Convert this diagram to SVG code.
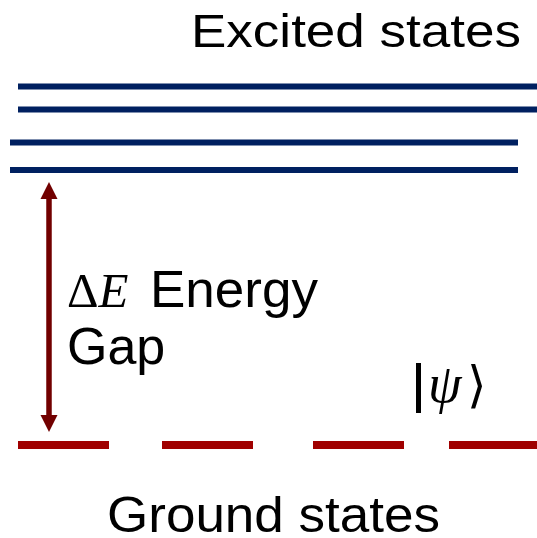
<svg xmlns="http://www.w3.org/2000/svg" width="537" height="538" viewBox="0 0 537 538">
<style>
.lbl{font-family:"Liberation Sans",Arial,sans-serif;fill:#000}
.math{font-family:"Liberation Serif","DejaVu Serif",serif;fill:#000}
.ex{stroke:#002060;stroke-width:6;fill:none}
.gs{stroke:#A00000;stroke-width:8;fill:none}
</style>
<rect width="537" height="538" fill="#fff"/>
<g id="excited-states">
<line class="ex" x1="18" y1="86.5" x2="537" y2="86.5"/>
<line class="ex" x1="18" y1="109.5" x2="537" y2="109.5"/>
<line class="ex" x1="10" y1="142.5" x2="518" y2="142.5"/>
<line class="ex" x1="10" y1="170" x2="518" y2="170"/>
<text class="lbl" x="191" y="47" font-size="47" textLength="330" lengthAdjust="spacingAndGlyphs">Excited states</text>
</g>
<g id="ground-states">
<line class="gs" x1="18" y1="445" x2="109" y2="445"/>
<line class="gs" x1="162" y1="445" x2="253" y2="445"/>
<line class="gs" x1="313" y1="445" x2="404" y2="445"/>
<line class="gs" x1="449" y1="445" x2="537" y2="445"/>
<text class="lbl" x="107" y="532" font-size="50" textLength="333" lengthAdjust="spacingAndGlyphs">Ground states</text>
</g>
<g id="psi">
<rect x="416" y="363" width="5" height="50" fill="#000"/>
<text class="math" x="428" y="402" font-size="54" font-style="italic">ψ</text>
<text class="math" x="467" y="402" font-size="50">⟩</text>
</g>
<g id="connectors">
<line x1="49" y1="196" x2="49" y2="418" stroke="#720000" stroke-width="5.5"/>
<polygon points="49,182 40.5,199 57.5,199" fill="#720000"/>
<polygon points="49,432 40.5,415 57.5,415" fill="#720000"/>
</g>
<g id="energy-gap">
<text class="math" x="67" y="307" font-size="49">Δ<tspan font-style="italic">E</tspan></text>
<text class="lbl" x="150" y="307" font-size="52" textLength="168" lengthAdjust="spacingAndGlyphs">Energy</text>
<text class="lbl" x="67" y="364" font-size="52">Gap</text>
</g>
</svg>
